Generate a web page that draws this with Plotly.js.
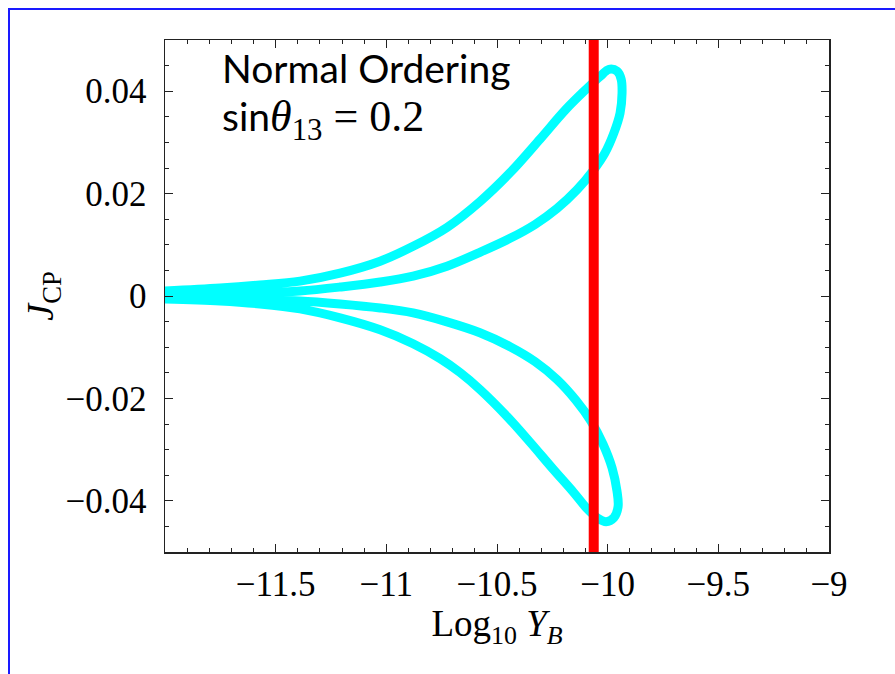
<!DOCTYPE html>
<html>
<head>
<meta charset="utf-8">
<script src="https://cdn.plot.ly/plotly-3.0.1.min.js"></script>
<style>
  html, body { margin: 0; padding: 0; background: #ffffff; }
  #chart { width: 895px; height: 674px; position: absolute; left: 0; top: 0; }
  #frame { position: absolute; left: 8px; top: 8px; width: 900px; height: 700px;
           border: 2px solid #1a1aff; pointer-events: none; }
</style>
</head>
<body>
<div id="chart"></div>
<div id="frame"></div>
<script>
// Upper lobe (J_CP > 0): closed loop
const upperLoopX = [-12.000, -11.751, -11.571, -11.390, -11.209, -11.028, -10.879, -10.726, -10.577, -10.441, -10.305, -10.192, -10.102, -10.034, -9.994, -9.957, -9.939, -9.935, -9.944, -9.972, -10.012, -10.066, -10.138, -10.229, -10.328, -10.441, -10.577, -10.726, -10.879, -11.028, -11.209, -11.390, -11.571, -11.751, -12.000];
const upperLoopY = [0.00097, 0.00155, 0.00214, 0.00291, 0.00447, 0.00680, 0.00971, 0.01340, 0.01845, 0.02408, 0.03068, 0.03631, 0.04019, 0.04291, 0.04427, 0.04388, 0.04233, 0.03961, 0.03573, 0.03184, 0.02796, 0.02447, 0.02078, 0.01709, 0.01398, 0.01126, 0.00854, 0.00583, 0.00388, 0.00272, 0.00175, 0.00097, 0.00058, 0.00039, 0.00019];

// Lower lobe (J_CP < 0): closed loop
const lowerLoopX = [-12.000, -11.751, -11.571, -11.390, -11.209, -11.028, -10.879, -10.726, -10.577, -10.441, -10.328, -10.229, -10.143, -10.075, -10.021, -9.980, -9.958, -9.953, -9.972, -10.007, -10.048, -10.093, -10.156, -10.247, -10.351, -10.455, -10.577, -10.667, -10.757, -10.879, -11.028, -11.209, -11.390, -11.571, -11.751, -12.000];
const lowerLoopY = [-0.00039, -0.00058, -0.00078, -0.00097, -0.00155, -0.00233, -0.00330, -0.00505, -0.00718, -0.00990, -0.01282, -0.01631, -0.02039, -0.02447, -0.02893, -0.03359, -0.03806, -0.04117, -0.04330, -0.04408, -0.04330, -0.04155, -0.03825, -0.03379, -0.02854, -0.02350, -0.01825, -0.01495, -0.01223, -0.00932, -0.00660, -0.00427, -0.00252, -0.00155, -0.00097, -0.00058];

// Observed baryon asymmetry (vertical band)
const observedLogYB = -10.063;
const jcpRange = [-0.05, 0.05];

// Axis ticks
const xTickVals = [-11.5, -11, -10.5, -10, -9.5, -9];
const xTickText = ["\u221211.5", "\u221211", "\u221210.5", "\u221210", "\u22129.5", "\u22129"];
const yTickVals = [0.04, 0.02, 0, -0.02, -0.04];
const yTickText = ["0.04", "0.02", "0", "\u22120.02", "\u22120.04"];

const cyan = "#00ffff";
const traces = [
  { x: upperLoopX, y: upperLoopY, mode: "lines", line: { color: cyan, width: 9, shape: "spline", smoothing: 1 }, hoverinfo: "skip" },
  { x: lowerLoopX, y: lowerLoopY, mode: "lines", line: { color: cyan, width: 9, shape: "spline", smoothing: 1 }, hoverinfo: "skip" },
  { x: [observedLogYB, observedLogYB], y: jcpRange, mode: "lines", line: { color: "#ff0000", width: 10 }, hoverinfo: "skip" }
];

const tickFont = { family: "Liberation Serif, Times New Roman, serif", size: 35, color: "#000" };
const layout = {
  width: 895, height: 674,
  margin: { l: 165, r: 66, t: 40, b: 122 },
  paper_bgcolor: "#ffffff", plot_bgcolor: "#ffffff",
  showlegend: false,
  xaxis: {
    range: [-12, -9], showgrid: false, zeroline: false,
    showline: true, linecolor: "#222", linewidth: 1.5, mirror: "allticks",
    ticks: "inside", ticklen: 8, tickcolor: "#222", tickwidth: 1,
    tickvals: xTickVals, ticktext: xTickText,
    minor: { ticks: "inside", dtick: 0.1, tick0: -12, ticklen: 4, tickcolor: "#222", showgrid: false },
    tickfont: tickFont, ticklabelstandoff: 0,
    title: { text: "Log<sub>10</sub> <i>Y</i><sub><i>B</i></sub>", font: { family: "Liberation Serif, serif", size: 37, color: "#000" }, standoff: 4 }
  },
  yaxis: {
    range: jcpRange, showgrid: false, zeroline: false,
    showline: true, linecolor: "#222", linewidth: 1.5, mirror: "allticks",
    ticks: "inside", ticklen: 8, tickcolor: "#222", tickwidth: 1,
    tickvals: yTickVals, ticktext: yTickText,
    minor: { ticks: "inside", dtick: 0.005, tick0: 0, ticklen: 4, tickcolor: "#222", showgrid: false },
    tickfont: tickFont, ticklabelstandoff: 10,
    title: { text: "<i>J</i><sub>CP</sub>", font: { family: "Liberation Serif, serif", size: 38, color: "#000" }, standoff: 0 }
  },
  annotations: [
    { text: "Normal Ordering", xref: "paper", yref: "paper", x: 0.083, y: 0.945, xanchor: "left", yanchor: "middle",
      showarrow: false, font: { family: "Lato, Open Sans, sans-serif", size: 39, color: "#000" } },
    { text: "sin<span style='font-family:Liberation Serif;font-size:44px'><i>θ</i><sub>13</sub> = 0.2</span>", xref: "paper", yref: "paper", x: 0.083, y: 0.845, xanchor: "left", yanchor: "middle",
      showarrow: false, font: { family: "Lato, Open Sans, sans-serif", size: 39, color: "#000" } }
  ]
};

Plotly.newPlot("chart", traces, layout, { staticPlot: true, displayModeBar: false });
</script>
</body>
</html>
